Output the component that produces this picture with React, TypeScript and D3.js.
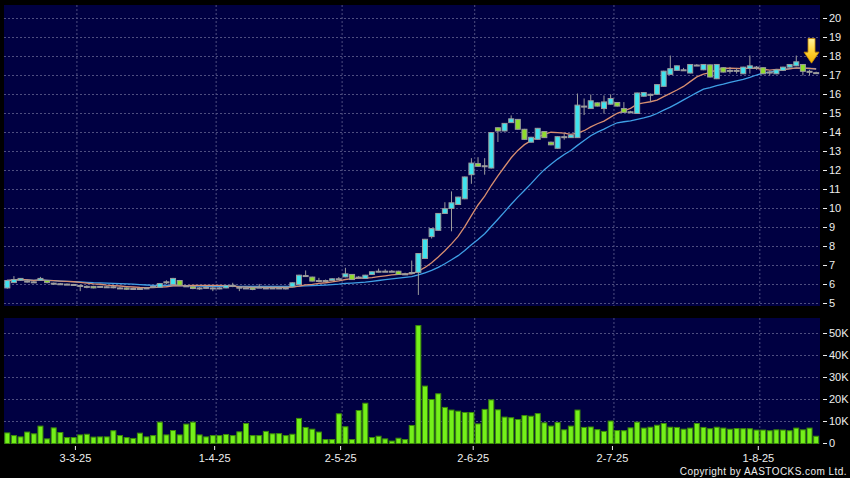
import React from 'react';
import * as d3 from 'd3';

// ---- Data ----
const opens = [
  5.82, 6.10, 6.23, 6.18, 6.14, 6.23, 6.21, 6.07, 6.04, 6.02,
  6.00, 5.95, 5.90, 5.90, 5.90, 5.88, 5.88, 5.82, 5.82, 5.79,
  5.79, 5.82, 5.90, 5.86, 6.14, 6.00, 6.21, 5.93, 5.88, 5.82,
  5.85, 5.82, 5.82, 5.82, 5.96, 5.86, 5.82, 5.82, 5.86, 5.82,
  5.82, 5.82, 5.82, 5.88, 6.00, 6.47, 6.39, 6.21, 6.21, 6.21,
  6.30, 6.40, 6.53, 6.39, 6.32, 6.53, 6.70, 6.70, 6.70, 6.70,
  6.56, 6.63, 6.64, 7.37, 8.52, 8.85, 9.74, 10.00, 10.21, 10.51,
  11.78, 12.36, 12.25, 12.13, 14.25, 14.08, 14.52, 14.69, 14.17, 13.49,
  13.64, 14.05, 13.49, 13.17, 13.78, 13.73, 13.73, 15.39, 15.26, 15.56,
  15.26, 15.49, 15.58, 15.26, 15.09, 15.00, 15.91, 16.01, 16.01, 16.43,
  17.06, 17.27, 17.30, 17.13, 17.55, 17.30, 17.56, 16.83, 17.41, 17.27,
  17.27, 17.09, 17.37, 17.44, 17.41, 17.18, 17.09, 17.27, 17.44, 17.51,
  17.58, 17.22, 17.15,
];
const closes = [
  6.21, 6.26, 6.32, 6.18, 6.14, 6.32, 6.10, 6.07, 6.04, 6.02,
  6.00, 5.95, 5.90, 5.82, 5.90, 5.88, 5.88, 5.82, 5.75, 5.79,
  5.79, 5.82, 5.90, 6.05, 6.14, 6.32, 5.96, 5.93, 5.79, 5.82,
  5.85, 5.82, 5.82, 5.95, 5.96, 5.86, 5.82, 5.74, 5.86, 5.82,
  5.82, 5.82, 5.82, 6.09, 6.49, 6.47, 6.18, 6.21, 6.21, 6.30,
  6.30, 6.56, 6.26, 6.39, 6.49, 6.67, 6.70, 6.70, 6.70, 6.53,
  6.56, 6.63, 7.63, 8.38, 8.94, 9.74, 9.99, 10.30, 10.60, 11.66,
  12.39, 12.22, 12.25, 14.00, 14.08, 14.48, 14.72, 14.17, 13.64, 13.75,
  14.22, 13.73, 13.35, 13.78, 13.78, 13.87, 15.44, 15.39, 15.67, 15.39,
  15.61, 15.79, 15.39, 15.06, 15.09, 16.08, 16.10, 16.01, 16.52, 17.23,
  17.36, 17.51, 17.30, 17.58, 17.55, 17.58, 16.92, 17.58, 17.18, 17.27,
  17.27, 17.44, 17.51, 17.44, 17.09, 17.18, 17.30, 17.44, 17.58, 17.72,
  17.22, 17.22, 17.15,
];
const highs = [
  6.25, 6.44, 6.34, 6.26, 6.20, 6.40, 6.24, 6.10, 6.08, 6.05,
  6.03, 6.00, 5.96, 5.93, 5.93, 5.92, 5.92, 5.88, 5.85, 5.83,
  5.83, 5.86, 5.94, 6.08, 6.22, 6.35, 6.24, 5.97, 5.90, 5.86,
  5.90, 5.91, 5.86, 5.98, 6.09, 5.90, 5.86, 5.85, 6.03, 5.86,
  5.86, 5.86, 5.86, 6.11, 6.51, 6.74, 6.41, 6.35, 6.26, 6.33,
  6.39, 6.88, 6.55, 6.45, 6.51, 6.69, 6.84, 6.80, 6.76, 6.72,
  6.62, 7.26, 7.65, 8.40, 8.96, 9.76, 10.33, 10.90, 10.62, 11.68,
  12.65, 12.70, 12.65, 14.02, 14.27, 14.50, 14.90, 14.71, 14.19, 13.77,
  14.24, 14.07, 13.52, 13.80, 13.95, 13.89, 16.05, 15.79, 16.00, 15.58,
  15.95, 16.01, 15.60, 15.60, 15.14, 16.10, 16.12, 16.05, 16.54, 17.25,
  18.05, 17.53, 17.40, 17.60, 17.60, 17.60, 17.58, 17.60, 17.43, 17.45,
  17.40, 17.46, 18.05, 17.50, 17.43, 17.25, 17.32, 17.46, 17.60, 18.05,
  17.60, 17.30, 17.20,
];
const lows = [
  5.78, 6.08, 6.20, 6.10, 6.08, 6.20, 6.06, 5.98, 6.00, 5.98,
  5.96, 5.65, 5.80, 5.80, 5.82, 5.82, 5.80, 5.78, 5.72, 5.72,
  5.74, 5.76, 5.84, 5.84, 6.02, 5.98, 5.93, 5.88, 5.75, 5.72,
  5.78, 5.65, 5.75, 5.80, 5.86, 5.65, 5.78, 5.70, 5.82, 5.78,
  5.78, 5.78, 5.74, 5.86, 5.98, 6.40, 6.16, 6.12, 6.16, 6.19,
  6.25, 6.38, 6.24, 6.33, 6.30, 6.51, 6.64, 6.66, 6.66, 6.51,
  6.52, 6.55, 5.45, 7.35, 8.42, 8.83, 9.72, 8.80, 10.19, 10.49,
  11.30, 12.20, 11.78, 12.11, 13.50, 14.06, 14.50, 14.15, 13.62, 13.47,
  13.62, 13.71, 13.33, 13.15, 13.62, 13.71, 13.71, 14.92, 15.24, 15.37,
  15.00, 15.47, 15.37, 15.04, 15.02, 14.98, 15.89, 15.61, 15.99, 16.41,
  17.04, 17.25, 17.25, 17.11, 17.50, 17.28, 16.90, 16.81, 17.16, 17.10,
  17.10, 17.07, 17.10, 17.30, 17.07, 17.00, 17.07, 17.25, 17.42, 17.49,
  17.00, 17.00, 17.10,
];
// volume in thousands of shares
const volumesK = [
  4.8, 3.6, 3.0, 5.2, 4.4, 7.9, 2.1, 7.1, 5.0, 2.7,
  2.7, 3.9, 4.2, 2.9, 3.0, 3.0, 5.8, 3.6, 2.7, 2.3,
  4.7, 3.0, 3.6, 9.7, 3.9, 5.9, 3.9, 8.8, 9.7, 3.9,
  3.0, 3.6, 3.6, 4.1, 3.6, 5.3, 9.1, 3.6, 3.6, 5.5,
  4.4, 4.5, 3.6, 4.2, 11.4, 7.3, 6.5, 5.2, 1.8, 1.8,
  13.5, 7.6, 1.8, 15.0, 18.3, 2.7, 3.3, 2.1, 1.1, 2.4,
  1.8, 8.2, 53.6, 26.1, 20.0, 22.6, 16.4, 15.2, 14.7, 14.1,
  14.1, 8.9, 15.5, 19.8, 15.3, 12.0, 11.7, 10.9, 12.7, 12.4,
  13.6, 9.4, 7.9, 9.5, 6.2, 7.9, 15.2, 7.3, 7.5, 6.3,
  5.5, 10.2, 5.9, 5.8, 7.1, 9.7, 7.0, 7.4, 8.3, 9.1,
  7.4, 7.3, 6.5, 7.0, 9.1, 7.3, 6.7, 7.4, 7.0, 6.5,
  6.8, 6.7, 6.7, 6.1, 6.1, 5.8, 6.2, 6.1, 5.8, 7.0,
  6.2, 7.0, 3.3,
];
const dateTickIndex = [10, 31, 50, 70, 91, 113];
const dateTickLabels = ['3-3-25', '1-4-25', '2-5-25', '2-6-25', '2-7-25', '1-8-25'];
const priceTicks = [5, 6, 7, 8, 9, 10, 11, 12, 13, 14, 15, 16, 17, 18, 19, 20];
const volumeTicks = [0, 10000, 20000, 30000, 40000, 50000];
const volumeTickLabels = ['0', '10K', '20K', '30K', '40K', '50K'];
const maShortPeriod = 10;
const maLongPeriod = 20;
const markerIndex = 121;
const copyrightText = 'Copyright by AASTOCKS.com Ltd.';

// ---- Styles ----
const W = 850;
const H = 478;
const plotLeft = 4;
const plotRight = 820;
const priceTop = 5;
const priceBottom = 306;
const volTop = 318;
const volBottom = 444;
const panelFill = '#000042';
const gridColor = '#4e4e80';
const upFill = '#3fe3ee';
const downFill = '#8fdc2e';
const candleStroke = '#9c9c9c';
const volFill = '#74f01a';
const volStroke = '#3c8c08';
const maShortColor = '#d88e70';
const maLongColor = '#3f9fe6';
const textColor = '#eeeeee';
const fontFamily = 'Liberation Sans, Arial, Helvetica, sans-serif';

function movingAverage(values: number[], period: number): number[] {
  return values.map((_, i) => {
    const start = Math.max(0, i - period + 1);
    const slice = values.slice(start, i + 1);
    return d3.mean(slice) as number;
  });
}

export default function App() {
  const n = closes.length;
  const x = d3.scaleLinear().domain([0, n - 1]).range([7.3, 7.3 + (n - 1) * 6.63]);
  const yP = d3.scaleLinear().domain([5, 20]).range([303.5, 18.5]);
  const yV = d3.scaleLinear().domain([0, 50000]).range([443.5, 333.5]);

  const maS = movingAverage(closes, maShortPeriod);
  const maL = movingAverage(closes, maLongPeriod);
  const line = d3
    .line<number>()
    .x((_, i) => x(i))
    .y((d) => yP(d));

  const bodyW = 5;
  const gridXs = dateTickIndex.map((i) => x(i + 0.5));

  const mx = x(markerIndex) + 2;
  const tipY = yP(17.65);
  const topY = yP(18.95);
  const midY = tipY - 11;
  const arrowPts = [
    [mx - 3.5, topY],
    [mx + 3.5, topY],
    [mx + 3.5, midY],
    [mx + 7.5, midY],
    [mx, tipY],
    [mx - 7.5, midY],
    [mx - 3.5, midY],
  ]
    .map((p) => p.join(','))
    .join(' ');

  return (
    <svg
      width={W}
      height={H}
      style={{ position: 'absolute', left: 0, top: 0, display: 'block' }}
      fontFamily={fontFamily}
    >
      <defs>
        <clipPath id="priceClip">
          <rect x={plotLeft} y={priceTop} width={plotRight - plotLeft} height={priceBottom - priceTop} />
        </clipPath>
        <linearGradient id="arrowGrad" x1="0" x2="0" y1="0" y2="1">
          <stop offset="0" stopColor="#fff3a0" />
          <stop offset="0.5" stopColor="#ffd43a" />
          <stop offset="1" stopColor="#f2b000" />
        </linearGradient>
      </defs>
      <rect x={0} y={0} width={W} height={H} fill="#000000" />

      {/* Price panel */}
      <rect x={plotLeft} y={priceTop} width={plotRight - plotLeft} height={priceBottom - priceTop} fill={panelFill} />
      {priceTicks.map((t) => (
        <line
          key={'pg' + t}
          x1={plotLeft}
          x2={plotRight}
          y1={yP(t)}
          y2={yP(t)}
          stroke={gridColor}
          strokeDasharray="2,2"
          strokeWidth={1}
        />
      ))}
      {gridXs.map((gx, i) => (
        <line
          key={'pvg' + i}
          x1={gx}
          x2={gx}
          y1={priceTop}
          y2={priceBottom}
          stroke={gridColor}
          strokeDasharray="2,2"
          strokeWidth={1}
        />
      ))}

      <g clipPath="url(#priceClip)">
        <path d={line(maL) || ''} fill="none" stroke={maLongColor} strokeWidth={1.3} />
        <path d={line(maS) || ''} fill="none" stroke={maShortColor} strokeWidth={1.3} />
        {closes.map((c, i) => {
          const o = opens[i];
          const cx = x(i);
          const yTop = yP(Math.max(o, c));
          const yBot = yP(Math.min(o, c));
          const fill = c > o ? upFill : c < o ? downFill : candleStroke;
          return (
            <g key={'c' + i}>
              <line x1={cx} x2={cx} y1={yP(highs[i])} y2={yP(lows[i])} stroke={candleStroke} strokeWidth={1} />
              <rect
                x={cx - bodyW / 2}
                y={yTop}
                width={bodyW}
                height={Math.max(1, yBot - yTop)}
                fill={fill}
                stroke={candleStroke}
                strokeWidth={1}
              />
            </g>
          );
        })}
      </g>

      <polygon points={arrowPts} fill="url(#arrowGrad)" stroke="#c98a00" strokeWidth={0.8} />

      {priceTicks.map((t) => (
        <g key={'pl' + t}>
          <line x1={823} x2={827} y1={yP(t)} y2={yP(t)} stroke={textColor} strokeWidth={1} />
          <text x={829} y={yP(t)} dy="0.36em" fontSize={11} fill={textColor}>
            {t}
          </text>
        </g>
      ))}

      {/* Volume panel */}
      <rect x={plotLeft} y={volTop} width={plotRight - plotLeft} height={volBottom - volTop} fill={panelFill} />
      {volumeTicks.slice(1).map((t) => (
        <line
          key={'vg' + t}
          x1={plotLeft}
          x2={plotRight}
          y1={yV(t)}
          y2={yV(t)}
          stroke={gridColor}
          strokeDasharray="2,2"
          strokeWidth={1}
        />
      ))}
      {gridXs.map((gx, i) => (
        <line
          key={'vvg' + i}
          x1={gx}
          x2={gx}
          y1={volTop}
          y2={volBottom}
          stroke={gridColor}
          strokeDasharray="2,2"
          strokeWidth={1}
        />
      ))}
      {volumesK.map((v, i) => {
        const top = yV(v * 1000);
        return (
          <rect
            key={'v' + i}
            x={x(i) - bodyW / 2}
            y={top}
            width={bodyW}
            height={Math.max(0, yV(0) - top)}
            fill={volFill}
            stroke={volStroke}
            strokeWidth={1}
          />
        );
      })}
      {volumeTicks.map((t, i) => (
        <g key={'vl' + t}>
          <line x1={823} x2={827} y1={yV(t)} y2={yV(t)} stroke={textColor} strokeWidth={1} />
          <text x={829} y={yV(t)} dy="0.36em" fontSize={11} fill={textColor}>
            {volumeTickLabels[i]}
          </text>
        </g>
      ))}

      {/* Date axis */}
      {gridXs.map((gx, i) => (
        <g key={'dt' + i}>
          <line x1={gx - 1.5} x2={gx - 1.5} y1={446} y2={450} stroke={textColor} strokeWidth={1} />
          <text x={gx - 1.5} y={462} textAnchor="middle" fontSize={11} fill={textColor}>
            {dateTickLabels[i]}
          </text>
        </g>
      ))}

      <text x={847} y={475} textAnchor="end" fontSize={10} fill={textColor} letterSpacing={0.45}>
        {copyrightText}
      </text>
    </svg>
  );
}
